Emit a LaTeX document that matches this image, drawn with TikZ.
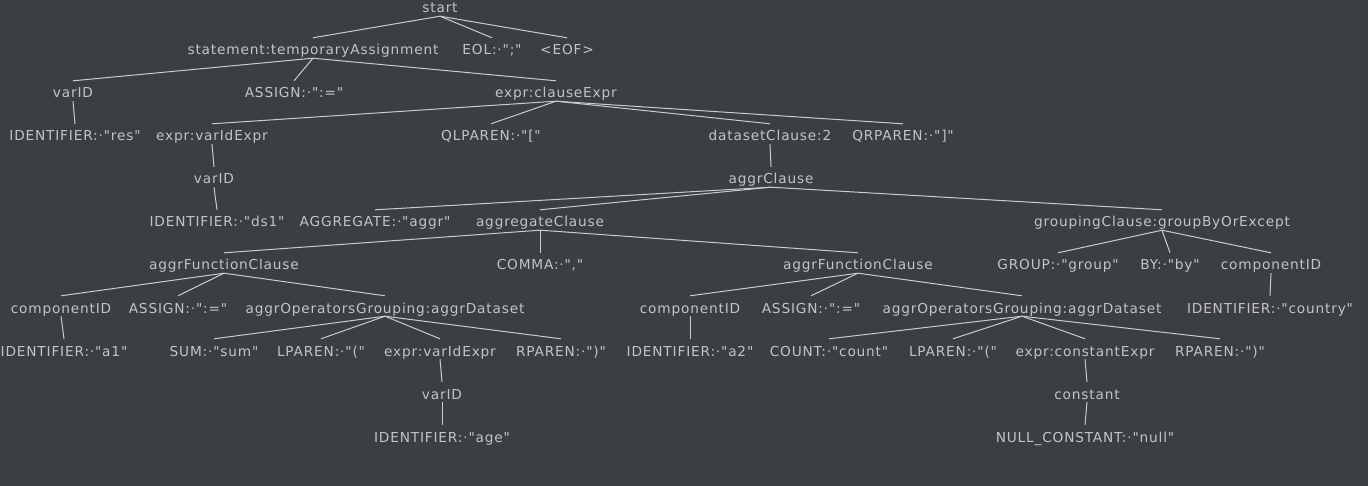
\documentclass[tikz,border=0pt]{standalone}
\usepackage{fontspec}
\setmainfont{DejaVu Sans}[LetterSpace=6,Ligatures=TeXOff]
\definecolor{bgdark}{HTML}{3B3E42}
\definecolor{txtgray}{HTML}{C4C4C4}
\definecolor{edgegray}{HTML}{CCCCCC}
\begin{document}
\begin{tikzpicture}
[x=1pt,y=-1pt,
 every node/.style={anchor=base,inner sep=0pt,text height=17pt,text depth=3pt,
   yshift=-1pt,text=txtgray,font=\fontsize{13.7}{16}\selectfont},
 edge/.style={draw=edgegray,line width=1pt}]
\fill[bgdark] (0,0) rectangle (1368,486); %% background
\useasboundingbox (0,0) rectangle (1368,486);
%% row 0 and 1
\node (start)   at (440,12) {start};
\node (stmt)    at (313,54) {statement:temporaryAssignment};
\node (eol)     at (492,54) {EOL:·";"};
\node (eof)     at (567,54) {<EOF>};
%% row 2
\node (varidA)  at (73,97)  {varID};
\node (assignA) at (294,97) {ASSIGN:·":="};
\node (clause)  at (556,97) {expr:clauseExpr};
%% row 3
\node (idres)   at (75,140)  {IDENTIFIER:·"res"};
\node (vieA)    at (212,140) {expr:varIdExpr};
\node (qlparen) at (491,140) {QLPAREN:·"["};
\node (dsclause) at (770,140) {datasetClause:2};
\node (qrparen) at (903,140) {QRPAREN:·"]"};
%% row 4
\node (varidB)  at (214,183) {varID};
\node (aggrcl)  at (771,183) {aggrClause};
%% row 5
\node (idds)    at (217,226) {IDENTIFIER:·"ds1"};
\node (aggrtok) at (375,226) {AGGREGATE:·"aggr"};
\node (aggregatecl) at (540,226) {aggregateClause};
\node (grouping) at (1162,226) {groupingClause:groupByOrExcept};
%% row 6
\node (afcA)    at (224,269)  {aggrFunctionClause};
\node (comma)   at (540,269)  {COMMA:·","};
\node (afcB)    at (858,269)  {aggrFunctionClause};
\node (group)   at (1058,269) {GROUP:·"group"};
\node (by)      at (1170,269) {BY:·"by"};
\node (cidC)    at (1271,269) {componentID};
%% row 7
\node (cidA)    at (61,312)   {componentID};
\node (assignB) at (178,312)  {ASSIGN:·":="};
\node (aogA)    at (385,312)  {aggrOperatorsGrouping:aggrDataset};
\node (cidB)    at (690,312)  {componentID};
\node (assignC) at (811,312)  {ASSIGN:·":="};
\node (aogB)    at (1022,312) {aggrOperatorsGrouping:aggrDataset};
\node (idcountry) at (1270,312) {IDENTIFIER:·"country"};
%% row 8
\node (ida)     at (64,355)   {IDENTIFIER:·"a1"};
\node (sum)     at (214,355)  {SUM:·"sum"};
\node (lparenA) at (321,355)  {LPAREN:·"("};
\node (vieB)    at (440,355)  {expr:varIdExpr};
\node (rparenA) at (561,355)  {RPAREN:·")"};
\node (idb)     at (690,355)  {IDENTIFIER:·"a2"};
\node (count)   at (829,355)  {COUNT:·"count"};
\node (lparenB) at (953,355)  {LPAREN:·"("};
\node (constexpr) at (1085,355) {expr:constantExpr};
\node (rparenB) at (1220,355) {RPAREN:·")"};
%% row 9 and 10
\node (varidC)  at (442,398)  {varID};
\node (constant) at (1087,398) {constant};
\node (idage)   at (442,441)  {IDENTIFIER:·"age"};
\node (idnull)  at (1085,441) {NULL\_CONSTANT:·"null"};
%% edges
\foreach \a/\b in {start/stmt,start/eol,start/eof,
  stmt/varidA,stmt/assignA,stmt/clause,varidA/idres,
  clause/vieA,clause/qlparen,clause/dsclause,clause/qrparen,
  vieA/varidB,varidB/idds,dsclause/aggrcl,
  aggrcl/aggrtok,aggrcl/aggregatecl,aggrcl/grouping,
  aggregatecl/afcA,aggregatecl/comma,aggregatecl/afcB,
  afcA/cidA,afcA/assignB,afcA/aogA,cidA/ida,
  aogA/sum,aogA/lparenA,aogA/vieB,aogA/rparenA,
  vieB/varidC,varidC/idage,
  afcB/cidB,afcB/assignC,afcB/aogB,cidB/idb,
  aogB/count,aogB/lparenB,aogB/constexpr,aogB/rparenB,
  constexpr/constant,constant/idnull,
  grouping/group,grouping/by,grouping/cidC,cidC/idcountry}
  \draw[edge] (\a.south) -- (\b.north);
\end{tikzpicture}
\end{document}
